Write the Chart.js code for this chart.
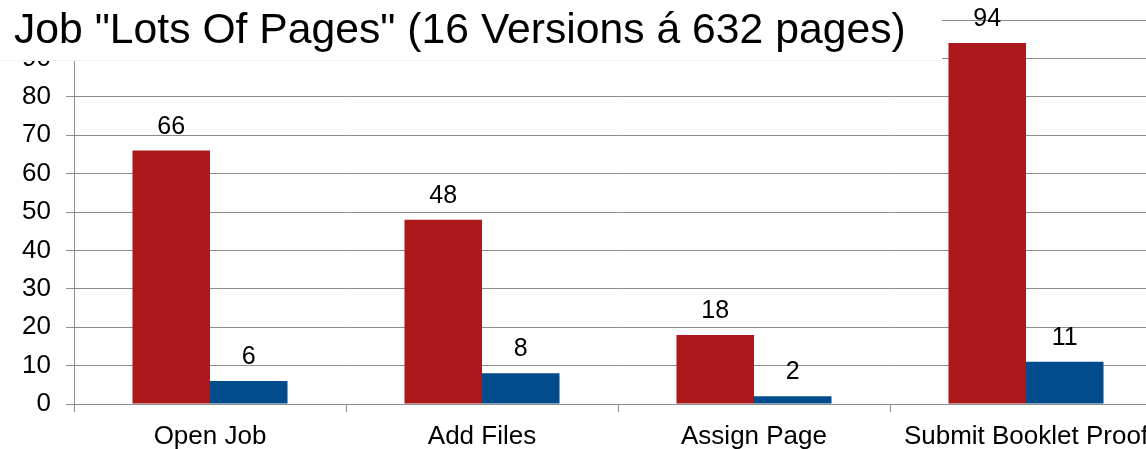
<!DOCTYPE html>
<html>
<head>
<meta charset="utf-8">
<script src="https://cdn.jsdelivr.net/npm/chart.js@4.4.1/dist/chart.umd.min.js"></script>
<style>
  html, body { margin: 0; padding: 0; background: #fff; overflow: hidden; }
  #wrap { position: relative; width: 1162px; height: 449px; }
</style>
</head>
<body>
<div id="wrap"><canvas id="chart"></canvas></div>
<script>
// chart data
const chartTitle = 'Job "Lots Of Pages" (16 Versions á 632 pages)';
const categories = ['Open Job', 'Add Files', 'Assign Page', 'Submit Booklet Proof'];
const redValues = [66, 48, 18, 94];
const blueValues = [6, 8, 2, 11];
const yTicks = [0, 10, 20, 30, 40, 50, 60, 70, 80, 90, 100];

const colors = {
    red: '#AA181B',
    blue: '#004C8C',
    grid: '#8c8c8c',
    text: '#000000'
};
const fontFamily = "'Liberation Sans', Arial, sans-serif";

// value labels above each bar
const valueLabels = {
    id: 'valueLabels',
    afterDatasetsDraw(chart) {
        const ctx = chart.ctx;
        ctx.save();
        ctx.fillStyle = colors.text;
        ctx.font = `25px ${fontFamily}`;
        ctx.textAlign = 'center';
        ctx.textBaseline = 'alphabetic';
        chart.data.datasets.forEach((ds, i) => {
            chart.getDatasetMeta(i).data.forEach((bar, j) => {
                ctx.fillText(String(ds.data[j]), bar.x, bar.y - 17);
            });
        });
        ctx.restore();
    }
};

// title box sits over the top-left of the plot
const titleBox = {
    id: 'titleBox',
    afterDraw(chart) {
        const ctx = chart.ctx;
        ctx.save();
        ctx.fillStyle = '#fff';
        ctx.fillRect(0, 0, 942, 60);
        ctx.strokeStyle = '#f2f2f2';
        ctx.lineWidth = 1;
        ctx.beginPath();
        ctx.moveTo(0, 60.5);
        ctx.lineTo(942, 60.5);
        ctx.stroke();
        ctx.fillStyle = colors.text;
        ctx.font = `42.7px ${fontFamily}`;
        ctx.textAlign = 'left';
        ctx.textBaseline = 'alphabetic';
        ctx.fillText(chartTitle, 14, 43);
        ctx.restore();
    }
};

new Chart(document.getElementById('chart'), {
    type: 'bar',
    data: {
        labels: categories,
        datasets: [
            { label: 'A', data: redValues, backgroundColor: colors.red },
            { label: 'B', data: blueValues, backgroundColor: colors.blue }
        ]
    },
    options: {
        responsive: true,
        maintainAspectRatio: false,
        animation: false,
        categoryPercentage: 0.57,
        barPercentage: 1,
        layout: { padding: { top: 20, left: 0, right: 0, bottom: 0 } },
        plugins: {
            legend: { display: false },
            tooltip: { enabled: false }
        },
        scales: {
            x: {
                offset: true,
                grid: { display: true, drawOnChartArea: false, offset: true, color: colors.grid, tickLength: 8 },
                border: { display: true, color: colors.grid },
                ticks: { color: colors.text, font: { family: fontFamily, size: 26 }, padding: 9, maxRotation: 0, autoSkip: false },
                afterFit(scale) { scale.height = 45; scale.paddingLeft = 0; scale.paddingRight = 0; }
            },
            y: {
                min: 0,
                max: 100,
                afterBuildTicks(scale) { scale.ticks = yTicks.map(v => ({ value: v })); },
                grid: { color: colors.grid, tickLength: 8 },
                border: { display: true, color: colors.grid },
                ticks: { color: colors.text, font: { family: fontFamily, size: 26 }, padding: 15 },
                afterFit(scale) { scale.width = 74; scale.paddingTop = 0; scale.paddingBottom = 0; }
            }
        }
    },
    plugins: [valueLabels, titleBox]
});
</script>
</body>
</html>
